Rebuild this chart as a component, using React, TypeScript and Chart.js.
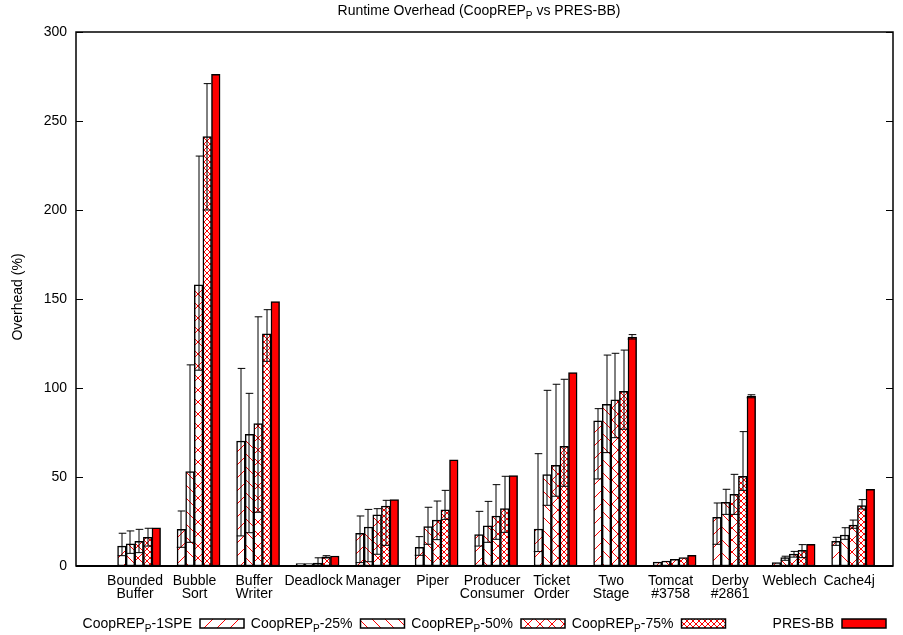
import React, { useEffect, useRef } from 'react';
import { Chart, registerables } from 'chart.js';
Chart.register(...registerables);

const FONT = "'Liberation Sans', Arial, Helvetica, sans-serif";

const categories: string[][] = [
  ['Bounded', 'Buffer'], ['Bubble', 'Sort'], ['Buffer', 'Writer'], ['Deadlock'], ['Manager'], ['Piper'],
  ['Producer', 'Consumer'], ['Ticket', 'Order'], ['Two', 'Stage'], ['Tomcat', '#3758'], ['Derby', '#2861'],
  ['Weblech'], ['Cache4j'],
];

const yTicks = [0, 50, 100, 150, 200, 250, 300];

// CoopREP_P-1SPE
const spe1 = [11.2, 20.6, 70.2, 1.3, 18.3, 10.5, 17.6, 20.8, 81.5, 2.2, 27.3, 1.9, 13.9];
const spe1Low = [5.8, 10.5, 16.9, null, 1.9, 6.0, 11.2, 8.1, 48.9, null, 12.2, null, 11.6];
const spe1High = [18.4, 30.9, 111, null, 28.1, 16.5, 30.7, 63.1, 88.4, null, 35.4, null, 16.1];
// CoopREP_P-25%
const p25 = [12.4, 53, 74, 1.3, 21.9, 22.1, 22.5, 51.3, 90.8, 2.8, 35.8, 4.7, 17.4];
const p25Low = [7.1, 13.3, 18.7, null, 2.4, 12.2, 13.3, 34.1, 63.7, null, 29, 3.2, 15];
const p25High = [19.7, 113, 97, null, 31.8, 33, 36.3, 98.7, 118.5, null, 43.1, 5.5, 21.5];
// CoopREP_P-50%
const p50 = [13.9, 158, 80, 1.7, 28.7, 25.8, 28.1, 56.6, 93.4, 3.7, 40.3, 6.7, 23];
const p50Low = [7.5, 110, 30.2, 0.5, 6.6, 14.8, 15, 39.2, 72.1, null, 29, 5.0, 21.2];
const p50High = [20.6, 230.3, 140, 4.6, 32.2, 36.5, 45.7, 102.1, 119.5, null, 51.5, 8.2, 25.8];
// CoopREP_P-75%
const p75 = [16.1, 241.2, 130.5, 5.2, 33.7, 31.5, 32.2, 67.2, 98.1, 4.7, 50.4, 8.8, 33.9];
const p75Low = [11.2, 200, 115, 4.5, 11.6, 26.2, 18.9, 44.8, 76.8, null, 42.5, 4.7, 32];
const p75High = [21.2, 271, 144, 5.8, 36.9, 42.5, 50.4, 104.9, 121.3, null, 75.5, 12, 37.3];
// PRES-BB
const presBB = [21.5, 276.2, 148.5, 5.6, 37.3, 59.6, 50.8, 108.6, 128.6, 6.0, 95.5, 12.2, 43.1];
const presLow = [null, null, null, null, null, null, null, null, 127.5, null, 94.5, null, null];
const presHigh = [null, null, null, null, null, null, null, null, 130, null, 96.2, null, null];

const legendLabels: [string, boolean][][] = [
  [['CoopREP', false], ['P', true], ['-1SPE', false]],
  [['CoopREP', false], ['P', true], ['-25%', false]],
  [['CoopREP', false], ['P', true], ['-50%', false]],
  [['CoopREP', false], ['P', true], ['-75%', false]],
  [['PRES-BB', false]],
];
const titleParts: [string, boolean][] = [['Runtime Overhead (CoopREP', false], ['P', true], [' vs PRES-BB)', false]];
const yTitle = 'Overhead (%)';

function makePattern(kind: 'fwd' | 'back' | 'cross', period: number): CanvasPattern {
  const c = document.createElement('canvas');
  c.width = period;
  c.height = period;
  const g = c.getContext('2d')!;
  g.fillStyle = '#ffffff';
  g.fillRect(0, 0, period, period);
  g.fillStyle = '#ff0000';
  for (let i = 0; i < period; i++) {
    if (kind === 'fwd' || kind === 'cross') g.fillRect(i, period - 1 - i, 1, 1);
    if (kind === 'back' || kind === 'cross') g.fillRect(i, i, 1, 1);
  }
  return g.createPattern(c, 'repeat')!;
}

function drawParts(ctx: CanvasRenderingContext2D, parts: [string, boolean][], x: number, y: number, size: number, align: 'left' | 'center' | 'right') {
  const sub = size * 0.72;
  let w = 0;
  for (const [t, s] of parts) {
    ctx.font = `${s ? sub : size}px ${FONT}`;
    w += ctx.measureText(t).width;
  }
  let cx = align === 'left' ? x : align === 'center' ? x - w / 2 : x - w;
  ctx.textAlign = 'left';
  ctx.textBaseline = 'alphabetic';
  for (const [t, s] of parts) {
    ctx.font = `${s ? sub : size}px ${FONT}`;
    ctx.fillText(t, cx, s ? y + size * 0.28 : y);
    cx += ctx.measureText(t).width;
  }
}

export default function App() {
  const ref = useRef<HTMLCanvasElement>(null);
  useEffect(() => {
    document.body.style.margin = '0';
    const canvas = ref.current!;
    const fills: (CanvasPattern | string)[] = [
      makePattern('fwd', 13), makePattern('back', 13), makePattern('cross', 12), makePattern('cross', 6), '#ff0000',
    ];
    const series = [
      { values: spe1, low: spe1Low, high: spe1High },
      { values: p25, low: p25Low, high: p25High },
      { values: p50, low: p50Low, high: p50High },
      { values: p75, low: p75Low, high: p75High },
      { values: presBB, low: presLow, high: presHigh },
    ];

    const overlay = {
      id: 'overlay',
      afterDraw(chart: any) {
        const ctx: CanvasRenderingContext2D = chart.ctx;
        const { left, right, top, bottom } = chart.chartArea;
        const ys = chart.scales.y;
        ctx.save();
        // error bars
        chart.data.datasets.forEach((ds: any, di: number) => {
          const meta = chart.getDatasetMeta(di);
          meta.data.forEach((el: any, j: number) => {
            const lo = ds.errLow[j];
            const hi = ds.errHigh[j];
            if (lo == null || hi == null) return;
            const x = Math.round(el.x);
            const w = el.width;
            const yl = ys.getPixelForValue(lo);
            const yh = ys.getPixelForValue(hi);
            ctx.strokeStyle = '#000';
            ctx.lineWidth = 1;
            ctx.beginPath();
            ctx.moveTo(x, yl); ctx.lineTo(x, yh);
            ctx.moveTo(x - w / 2, yl); ctx.lineTo(x + w / 2, yl);
            ctx.moveTo(x - w / 2 + 1, yh); ctx.lineTo(x + w / 2, yh);
            ctx.stroke();
          });
        });
        // frame
        ctx.strokeStyle = '#000';
        ctx.lineWidth = 1.5;
        ctx.strokeRect(left, top, right - left, bottom - top);
        ctx.lineWidth = 2;
        ctx.beginPath(); ctx.moveTo(left, bottom); ctx.lineTo(right, bottom); ctx.stroke();
        // inward ticks
        ctx.lineWidth = 1;
        for (const v of yTicks) {
          const py = Math.round(ys.getPixelForValue(v)) + 0.5;
          ctx.beginPath();
          ctx.moveTo(left, py); ctx.lineTo(left + 7, py);
          ctx.moveTo(right, py); ctx.lineTo(right - 7, py);
          ctx.stroke();
        }
        ctx.fillStyle = '#000';
        // title
        drawParts(ctx, titleParts, 479, 15, 14, 'center');
        // y title
        ctx.save();
        ctx.translate(18, 297);
        ctx.rotate(-Math.PI / 2);
        ctx.font = `14px ${FONT}`;
        ctx.textAlign = 'center';
        ctx.textBaseline = 'middle';
        ctx.fillText(yTitle, 0, 0);
        ctx.restore();
        // legend
        for (let i = 0; i < legendLabels.length; i++) {
          const bx = 200 + 160.5 * i;
          ctx.fillStyle = '#000';
          drawParts(ctx, legendLabels[i], bx - 8, 628, 14, 'right');
          ctx.fillStyle = fills[i] as any;
          ctx.fillRect(bx, 619, 44, 9);
          ctx.strokeStyle = '#000';
          ctx.lineWidth = 1.5;
          ctx.strokeRect(bx, 619, 44, 9);
        }
        ctx.restore();
      },
    };

    const chart = new Chart(canvas, {
      type: 'bar',
      data: {
        datasets: series.map((s, i) => ({
          data: s.values.map((v, k) => ({ x: k, y: v })),
          backgroundColor: fills[i],
          borderColor: '#000',
          borderWidth: 1.5,
          borderSkipped: false,
          barThickness: 8.6,
          errLow: s.low,
          errHigh: s.high,
        })) as any,
      },
      options: {
        responsive: false,
        animation: false,
        events: [],
        layout: { padding: { top: 32, right: 10, left: 0, bottom: 0 } },
        plugins: { legend: { display: false }, title: { display: false }, tooltip: { enabled: false } },
        scales: {
          x: {
            type: 'linear',
            offset: false,
            min: -1.06,
            max: 12.67,
            grid: { display: false, drawTicks: false, offset: false },
            border: { display: false },
            afterBuildTicks: (s: any) => { s.ticks = categories.map((_, i) => ({ value: i })); },
            afterFit: (s: any) => { s.height = 69; },
            ticks: {
              autoSkip: false,
              maxRotation: 0,
              padding: 8,
              labelOffset: -4,
              color: '#000',
              font: { family: FONT, size: 14, lineHeight: '13.5px' as any },
              callback: (v: any) => categories[Math.round(Number(v))] ?? '',
            },
          },
          y: {
            min: 0,
            max: 300,
            grid: { display: false, drawTicks: false },
            border: { display: false },
            afterFit: (s: any) => { s.width = 76; },
            ticks: {
              stepSize: 50,
              padding: 9,
              color: '#000',
              font: { family: FONT, size: 14 },
            },
          },
        },
      } as any,
      plugins: [overlay],
    });
    return () => chart.destroy();
  }, []);
  return (
    <div style={{ width: 903, height: 635 }}>
      <canvas ref={ref} width={903} height={635} style={{ display: 'block' }} />
    </div>
  );
}
